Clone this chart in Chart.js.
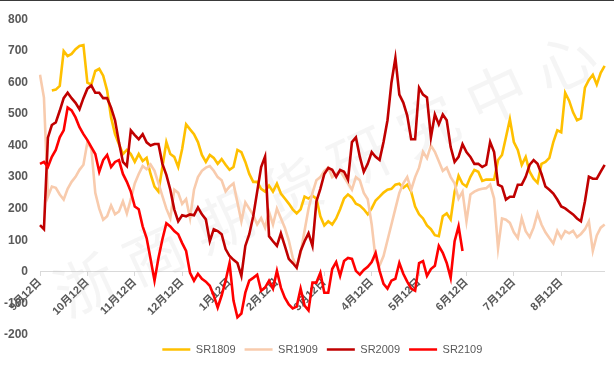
<!DOCTYPE html>
<html>
<head>
<meta charset="utf-8">
<script src="https://cdn.jsdelivr.net/npm/chart.js@4/dist/chart.umd.min.js"></script>
<style>
  html, body { margin: 0; padding: 0; background: #ffffff; }
  #wrap { width: 614px; height: 372px; position: relative; }
</style>
</head>
<body>
<div id="wrap"><canvas id="c"></canvas></div>
<script>
// Month tick labels along the horizontal axis (one every 12 points)
const tickLabels = ['9月12日', '10月12日', '11月12日', '12月12日', '1月12日', '2月12日',
                    '3月12日', '4月12日', '5月12日', '6月12日', '7月12日', '8月12日'];
const pointsPerMonth = 12;
const pointCount = 144;

const seriesNames = ['SR1809', 'SR1909', 'SR2009', 'SR2109'];
const seriesColors = ['#FFC000', '#F8CBAD', '#C00000', '#FF0000'];

const sr1809 = [
  null, null, null, 574, 577, 589, 699, 683, 690, 705,
  715, 718, 599, 593, 636, 643, 621, 574, 489, 436,
  404, 373, 386, 373, 348, 373, 351, 361, 310, 270,
  254, 332, 411, 373, 364, 332, 389, 467, 451, 436,
  411, 370, 348, 370, 361, 342, 357, 339, 323, 332,
  386, 379, 348, 310, 285, 285, 263, 254, 273, 254,
  279, 248, 232, 216, 198, 185, 198, 238, 232, 241,
  232, 176, 147, 160, 150, 169, 198, 232, 245, 235,
  216, 210, 198, 182, 201, 226, 238, 251, 260, 263,
  276, 279, 266, 276, 254, 207, 182, 169, 147, 135,
  116, 113, 176, 185, 166, 254, 304, 279, 270, 301,
  323, 317, 288, 292, 292, 292, 354, 370, 426, 483,
  411, 386, 339, 364, 317, 295, 282, 342, 348, 361,
  411, 448, 442, 567, 542, 505, 480, 486, 583, 608,
  624, 593, 630, 652
];

const sr1909 = [
  624, 552, 238, 270, 266, 245, 229, 263, 285, 301,
  323, 339, 410, 390, 250, 200, 165, 176, 210, 182,
  191, 223, 185, 230, 280, 310, 335, 325, 340, 320,
  280, 240, 200, 170, 260, 250, 215, 230, 170, 260,
  300, 320, 330, 335, 320, 300, 290, 255, 270, 280,
  220, 160, 220, 200, 180, 150, 170, 140, 190, 150,
  200, 170, 140, 100, 45, 15, 60, 130, 200, 250,
  290, 300, 320, 330, 300, 310, 320, 300, 280, 260,
  300, 290, 250, 230, 150, 40, 20, 50, 100, 150,
  200, 250, 280, 300, 260, 300, 330, 380, 360, 400,
  380, 350, 320, 330, 300, 280, 232, 254, 160, 245,
  254, 260, 263, 265, 276, 232, 75, 169, 165, 155,
  125, 107, 170, 129, 110, 140, 185, 150, 125, 107,
  90, 130, 107, 129, 122, 130, 110, 120, 135, 160,
  66, 115, 140, 150
];

const sr2009 = [
  148, 135, 425, 465, 473, 510, 550, 567, 550, 535,
  515, 550, 580, 590, 567, 567, 550, 550, 520, 480,
  410, 348, 335, 448, 433, 420, 436, 410, 400, 405,
  405, 342, 307, 260, 198, 160, 179, 176, 182, 179,
  204, 182, 166, 97, 135, 129, 119, 72, 50, 38,
  28, -13, 82, 119, 176, 254, 332, 365, 113, 97,
  82, 122, 82, 41, 28, 13, 66, 97, 122, 82,
  223, 263, 310, 329, 323, 301, 323, 317, 292, 411,
  426, 364, 317, 342, 379, 364, 354, 411, 480, 599,
  677, 561, 536, 495, 420, 420, 583, 561, 552, 426,
  498, 467, 498, 480, 395, 348, 364, 404, 379, 364,
  342, 342, 332, 339, 411, 379, 276, 270, 229, 238,
  238, 276, 276, 301, 339, 354, 342, 310, 270, 260,
  248, 229, 207, 201, 191, 182, 169, 160, 223, 301,
  295, 295, 317, 339
];

const sr2109 = [
  342, 348, 332, 364, 386, 426, 448, 520, 511, 489,
  458, 436, 417, 395, 373, 317, 354, 370, 332, 348,
  354, 310, 285, 254, 207, 198, 144, 107, 41, -28,
  44, 103, 154, 144, 129, 119, 91, 66, -3, -28,
  -6, -22, -31, -44, -75, -113, -75, -28, 28, -91,
  -144, -132, -66, -28, -19, -9, -60, -50, -28, -53,
  3, -50, -82, -103, -116, -110, -53, -107, -122, -34,
  -34, -3, -66, -66, 9, 31, -13, 34, 44, 41,
  3, -9, 6, 16, 31, 60, 3, -38, -53, -28,
  -22, 28, -6, -31, -53, -60, 28, 34, -13, 9,
  19, 82, 60, 28, -19, 97, 144, 66
];

const categories = Array.from({ length: pointCount }, (_, i) =>
  i % pointsPerMonth === 0 ? tickLabels[i / pointsPerMonth] : '');

const seriesData = [sr1809, sr1909, sr2009, sr2109];

const tickFont = '"Liberation Sans", "Noto Sans CJK SC", sans-serif';

// Faint diagonal watermark behind the lines, plus the thin frame line on top
const watermark = {
  id: 'watermark',
  beforeDatasetsDraw(chart) {
    const ctx = chart.ctx;
    const text = '浙商期货研究中心';
    ctx.save();
    ctx.fillStyle = 'rgba(180,180,180,0.13)';
    ctx.font = '60px "Noto Sans CJK SC", sans-serif';
    ctx.textAlign = 'center';
    ctx.textBaseline = 'middle';
    const x0 = 85, y0 = 285, x1 = 565, y1 = 62;
    const ang = Math.atan2(y1 - y0, x1 - x0);
    for (let k = 0; k < text.length; k++) {
      const t = k / (text.length - 1);
      ctx.save();
      ctx.translate(x0 + (x1 - x0) * t, y0 + (y1 - y0) * t);
      ctx.rotate(ang);
      ctx.fillText(text[k], 0, 0);
      ctx.restore();
    }
    ctx.restore();
  },
  afterDraw(chart) {
    const ctx = chart.ctx;
    ctx.save();
    ctx.strokeStyle = '#3a3a3a';
    ctx.lineWidth = 1;
    ctx.beginPath();
    ctx.moveTo(0, 0.5);
    ctx.lineTo(chart.width, 0.5);
    ctx.stroke();
    ctx.restore();
  }
};

new Chart(document.getElementById('c'), {
  type: 'line',
  data: {
    labels: categories,
    datasets: seriesData.map((d, k) => ({
      label: seriesNames[k],
      data: d,
      borderColor: seriesColors[k],
      backgroundColor: seriesColors[k],
      borderWidth: 2.6,
      pointRadius: 0,
      tension: 0,
      spanGaps: false,
      order: 4 - k
    }))
  },
  options: {
    responsive: true,
    maintainAspectRatio: false,
    animation: false,
    layout: { padding: { top: 16, right: 0, bottom: 7, left: 0 } },
    plugins: {
      tooltip: { enabled: false },
      legend: {
        position: 'bottom',
        fullSize: false,
        labels: {
          usePointStyle: true,
          pointStyle: 'line',
          pointStyleWidth: 28,
          boxHeight: 11,
          padding: 9,
          color: '#595959',
          font: { family: '"Liberation Sans", "Noto Sans CJK SC", sans-serif', size: 11 },
          sort: (a, b) => a.datasetIndex - b.datasetIndex
        }
      }
    },
    scales: {
      x: {
        position: { y: 0 },
        border: { display: true, color: '#d9d9d9', width: 1 },
        grid: {
          display: true,
          drawOnChartArea: false,
          drawTicks: true,
          tickLength: 4,
          color: (c) => (c.index % pointsPerMonth === 0 ? '#d9d9d9' : 'rgba(0,0,0,0)')
        },
        ticks: {
          autoSkip: false,
          maxRotation: 45,
          minRotation: 45,
          padding: 0,
          color: '#595959',
          font: { family: tickFont, size: 11, weight: 'bold' },
          callback: (v, i) => categories[i]
        }
      },
      y: {
        min: -200,
        max: 800,
        afterFit: (s) => { s.width = 40; },
        border: { display: false },
        grid: { display: false, drawTicks: false },
        ticks: {
          stepSize: 100,
          padding: 12,
          color: '#595959',
          font: { family: tickFont, size: 12, weight: 'bold' }
        }
      }
    }
  },
  plugins: [watermark]
});
</script>
</body>
</html>
